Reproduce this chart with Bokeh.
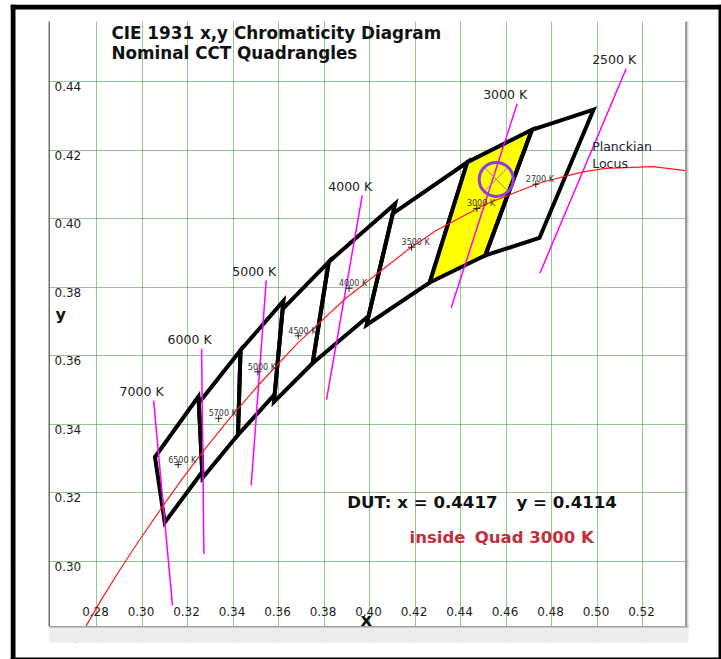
from bokeh.plotting import figure
from bokeh.models import BoxAnnotation, FixedTicker
from bokeh.core.properties import value
from bokeh.embed import file_html
from bokeh.resources import INLINE

# ---------------- data (chart coordinates) ----------------
quad_cct = ["6500 K", "5700 K", "5000 K", "4500 K", "4000 K", "3500 K", "3000 K", "2700 K"]
quad_x = [
    [0.3248, 0.3057, 0.3100, 0.3265],
    [0.3433, 0.3250, 0.3266, 0.3422],
    [0.3622, 0.3433, 0.3422, 0.3583],
    [0.3821, 0.3618, 0.3580, 0.3750],
    [0.4113, 0.3821, 0.3750, 0.3996],
    [0.4430, 0.4102, 0.3987, 0.4265],
    [0.4714, 0.4430, 0.4265, 0.4509],
    [0.4985, 0.4714, 0.4509, 0.4747],
]
quad_y = [
    [0.3481, 0.3304, 0.3113, 0.3261],
    [0.3616, 0.3462, 0.3243, 0.3369],
    [0.3760, 0.3616, 0.3369, 0.3487],
    [0.3874, 0.3736, 0.3465, 0.3578],
    [0.4044, 0.3874, 0.3578, 0.3716],
    [0.4165, 0.4015, 0.3690, 0.3814],
    [0.4260, 0.4165, 0.3814, 0.3893],
    [0.4319, 0.4260, 0.3893, 0.3944],
]
quad_highlight = [0, 0, 0, 0, 0, 0, 1, 0]
center_x = [0.3159, 0.3337, 0.3509, 0.3687, 0.3910, 0.4185, 0.4472, 0.4731]
center_y = [0.3282, 0.3417, 0.3553, 0.3658, 0.3797, 0.3917, 0.4030, 0.4101]

iso_labels = ["7000 K", "6000 K", "5000 K", "4000 K", "3000 K", "2500 K"]
iso_top_x = [0.3051, 0.3262, 0.3546, 0.3968, 0.4649, 0.5128]
iso_top_y = [0.3469, 0.3620, 0.3820, 0.4068, 0.4336, 0.4438]
iso_bot_x = [0.3134, 0.3272, 0.3480, 0.3811, 0.4359, 0.4749]
iso_bot_y = [0.2871, 0.3021, 0.3221, 0.3472, 0.3740, 0.3841]

planck_x = [0.5475, 0.5247, 0.5038, 0.4938, 0.4753, 0.4505, 0.4291, 0.4164, 0.3896, 0.3683,
            0.3514, 0.3378, 0.3265, 0.3172, 0.3096, 0.2975, 0.2885, 0.2818, 0.2724, 0.2635]
planck_y = [0.4133, 0.4152, 0.4147, 0.4137, 0.4106, 0.4041, 0.3965, 0.3907, 0.3768, 0.3636,
            0.3516, 0.3411, 0.3318, 0.3236, 0.3165, 0.3048, 0.2956, 0.2884, 0.2776, 0.2666]

dut_plot_x = [0.4557]
dut_plot_y = [0.4115]
dut_x_text = "DUT: x = 0.4417"
dut_y_text = "y = 0.4114"
result_a = "inside"
result_b = "Quad 3000 K"

x_ticks = [0.28, 0.30, 0.32, 0.34, 0.36, 0.38, 0.40, 0.42, 0.44, 0.46, 0.48, 0.50, 0.52]
x_tick_labels = ["0.28", "0.30", "0.32", "0.34", "0.36", "0.38", "0.40", "0.42", "0.44",
                 "0.46", "0.48", "0.50", "0.52"]
y_ticks = [0.30, 0.32, 0.34, 0.36, 0.38, 0.40, 0.42, 0.44]
y_tick_labels = ["0.30", "0.32", "0.34", "0.36", "0.38", "0.40", "0.42", "0.44"]

title_1 = "CIE 1931 x,y Chromaticity Diagram"
title_2 = "Nominal CCT Quadrangles"

# ---------------- geometry ----------------
W, H = 711, 655                 # canvas
PX_X, PX_Y = 2275.0, 3424.0     # pixels per chromaticity unit
PL, PR, PT, PB = 39, 678, 17, 638   # plot area inside the canvas (pixels)
x_plot_lo, y_plot_hi = 0.25934, 0.45761
x_start = x_plot_lo - PL / PX_X
x_end = x_start + W / PX_X
y_end = y_plot_hi + PT / PX_Y
y_start = y_end - H / PX_Y


def X(c):
    return x_start + c / PX_X


def Y(r):
    return y_end - r / PX_Y


p = figure(width=W, height=H, x_range=(x_start, x_end), y_range=(y_start, y_end),
           x_axis_location=None, y_axis_location=None,
           output_backend="svg", toolbar_location=None,
           min_border_left=0, min_border_right=0, min_border_top=0, min_border_bottom=0)
p.styles = {"margin-left": "10px", "margin-top": "4px"}
p.outline_line_color = None
p.background_fill_color = "white"
p.border_fill_color = "white"

p.xgrid.ticker = FixedTicker(ticks=x_ticks)
p.ygrid.ticker = FixedTicker(ticks=y_ticks)
for g in (p.xgrid, p.ygrid):
    g.grid_line_color = "#259025"
    g.grid_line_dash = "1 1"
    g.grid_line_width = 1

FONT = value("DejaVu Sans")

# quadrangles
p.patches(quad_x, quad_y, fill_color="#ffff00", fill_alpha=quad_highlight,
          line_color="black", line_width=4, line_join="miter")

# iso-CCT lines
p.segment(iso_top_x, iso_top_y, iso_bot_x, iso_bot_y, line_color="#ff00ff", line_width=1.5)

# Planckian locus
p.line(planck_x, planck_y, line_color="#ff1a1a", line_width=1.2)

# quad centres
p.scatter(center_x, center_y, marker="cross", size=7, line_color="#202020", line_width=1)
p.text(center_x, center_y, text=quad_cct, x_offset=-10, y_offset=-4.5,
       text_font=FONT, text_font_size="8px", text_color="#333333",
       text_align="left", text_baseline="alphabetic")

# iso labels
p.text(iso_top_x, iso_top_y, text=iso_labels, x_offset=-12, y_offset=-9,
       text_font=FONT, text_font_size="12.5px", text_color="#222222",
       text_align="center", text_baseline="alphabetic")

# DUT marker
p.scatter(dut_plot_x, dut_plot_y, marker="circle_x", size=34, fill_color=None,
          line_color="#a07ac8", line_width=1)
p.scatter(dut_plot_x, dut_plot_y, marker="circle", size=34, fill_color=None,
          line_color="#8b3fe0", line_width=3)

# tick labels (drawn inside the plot area as in the original)
p.text(x_ticks, [Y(PB)] * len(x_ticks), text=x_tick_labels, x_offset=-1, y_offset=-31,
       text_font=FONT, text_font_size="12px", text_color="#1e1e1e",
       text_align="center", text_baseline="alphabetic")
p.text([X(PL)] * len(y_ticks), y_ticks, text=y_tick_labels, x_offset=5, y_offset=5,
       text_font=FONT, text_font_size="12px", text_color="#1e1e1e",
       text_align="left", text_baseline="alphabetic")

# texts
def label(x, y, txt, size, color="#111111", bold=True, dy=-7):
    p.text([x], [y], text=[txt], y_offset=dy, text_font=FONT, text_font_size=size,
           text_font_style="bold" if bold else "normal", text_color=color,
           text_align="left", text_baseline="alphabetic")


label(0.28659, 0.45206, title_1, "16.8px", dy=-8)
label(0.28659, 0.44593, title_2, "16.8px", dy=-8)
label(0.39020, 0.31509, dut_x_text, "16.6px")
label(0.46462, 0.31509, dut_y_text, "16.6px")
label(0.41758, 0.30487, result_a, "16.5px", color="#c62d3a")
label(0.44629, 0.30487, result_b, "16.5px", color="#c62d3a")
label(0.49789, 0.41944, "Planckian", "12.5px", color="#222233", bold=False, dy=-6)
label(0.49789, 0.41430, "Locus", "12.5px", color="#222233", bold=False, dy=-6)
label(0.39604, 0.28180, "x", "18px", dy=-4)
label(0.26198, 0.37116, "y", "16px", dy=-3)

# ---------------- frame decorations (pixel geometry of the original window) ----------------
def band(color, **kw):
    p.add_layout(BoxAnnotation(fill_color=color, fill_alpha=1, line_color=None, **kw))


band("white", right=X(38))
band("white", bottom=Y(PT))
band("white", left=X(PR))
band("white", top=Y(PB))
band("#ececec", left=X(PL), right=X(PR), top=Y(622), bottom=Y(PB))
band("#a0a0a0", left=X(PL), right=X(PR), top=Y(621.5), bottom=Y(623))
band("#9c9c9c", left=X(674.5), right=X(677), top=Y(PT), bottom=Y(622))
band("#dadada", left=X(677), right=X(PR), top=Y(PT), bottom=Y(622))
band("#707070", left=X(38), right=X(39.5), top=Y(PT), bottom=Y(622))
# outer black window frame
band("black", right=X(5))
band("black", bottom=Y(5))
band("black", left=X(708))
band("black", top=Y(653))

open("out.html", "w").write(file_html(p, INLINE))
